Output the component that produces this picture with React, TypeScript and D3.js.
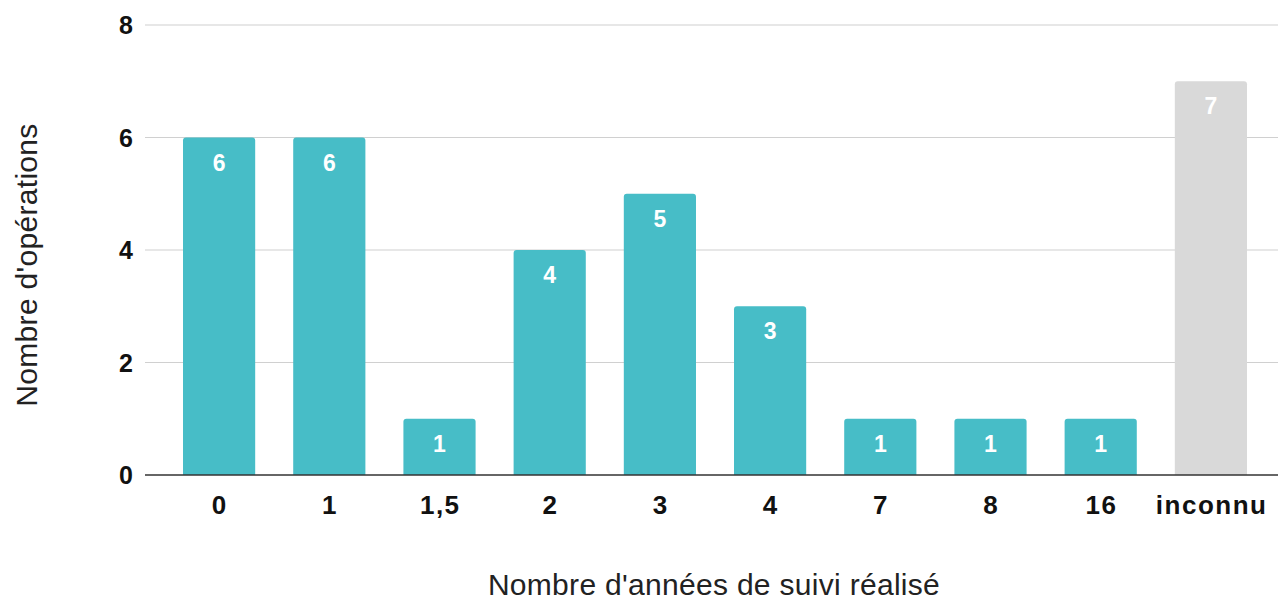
import React from 'react';
import * as d3 from 'd3';

const categories = ['0', '1', '1,5', '2', '3', '4', '7', '8', '16', 'inconnu'];
const values = [6, 6, 1, 4, 5, 3, 1, 1, 1, 7];
const yTicks = [0, 2, 4, 6, 8];

const W = 1278;
const H = 601;
const plot = { left: 145, right: 1278, top: 25, bottom: 475 };

const teal = '#47bdc7';
const grey = '#d9d9d9';

// rect with rounded top corners only
const topRounded = (x: number, y: number, w: number, h: number, r: number) => {
  const rr = Math.min(r, h, w / 2);
  return `M${x},${y + h}V${y + rr}Q${x},${y} ${x + rr},${y}H${x + w - rr}Q${x + w},${y} ${x + w},${y + rr}V${y + h}Z`;
};

const App: React.FC = () => {
  const x = d3.scaleBand<string>()
    .domain(categories)
    .range([164, 1266])
    .paddingInner(0.345)
    .paddingOuter(0.1725);

  const y = d3.scaleLinear().domain([0, 8]).range([plot.bottom, plot.top]);

  return (
    <svg width={W} height={H} style={{ position: 'absolute', left: 0, top: 0, background: '#fff' }}>
      {/* grid */}
      {yTicks.filter((t) => t > 0).map((t) => (
        <line key={t} x1={plot.left} x2={plot.right} y1={y(t)} y2={y(t)} stroke="#d0d0d0" strokeWidth={1.2} />
      ))}
      {/* y tick labels */}
      {yTicks.map((t) => (
        <text key={t} x={133} y={y(t)} dy="0.36em" textAnchor="end"
          fontFamily="Liberation Sans" fontWeight="bold" fontSize={25} fill="#111">{t}</text>
      ))}
      {/* bars */}
      {categories.map((c, i) => {
        const bx = x(c) as number;
        const by = y(values[i]);
        const h = plot.bottom - by;
        return (
          <g key={c}>
            <path d={topRounded(bx, by, x.bandwidth(), h, 3)} fill={c === 'inconnu' ? grey : teal} />
            <text x={bx + x.bandwidth() / 2} y={by + 33} textAnchor="middle"
              fontFamily="Liberation Sans" fontWeight="bold" fontSize={23} fill="#fff">{values[i]}</text>
          </g>
        );
      })}
      {/* baseline */}
      <line x1={plot.left} x2={plot.right} y1={plot.bottom} y2={plot.bottom} stroke="#333" strokeWidth={1.5} />
      {/* x tick labels */}
      {categories.map((c) => (
        <text key={c} x={(x(c) as number) + x.bandwidth() / 2 + 0.75} y={514} textAnchor="middle"
          fontFamily="Liberation Sans" fontWeight="bold" fontSize={26} letterSpacing={1.5} fill="#111">{c}</text>
      ))}
      {/* axis titles */}
      <text x={714} y={595} textAnchor="middle" fontFamily="Liberation Sans" fontSize={30} letterSpacing={0.3} fill="#222">
        Nombre d'années de suivi réalisé
      </text>
      <text transform={`translate(37,265) rotate(-90)`} textAnchor="middle" fontFamily="Liberation Sans" fontSize={30} letterSpacing={0.3} fill="#222">
        Nombre d'opérations
      </text>
    </svg>
  );
};

export default App;
